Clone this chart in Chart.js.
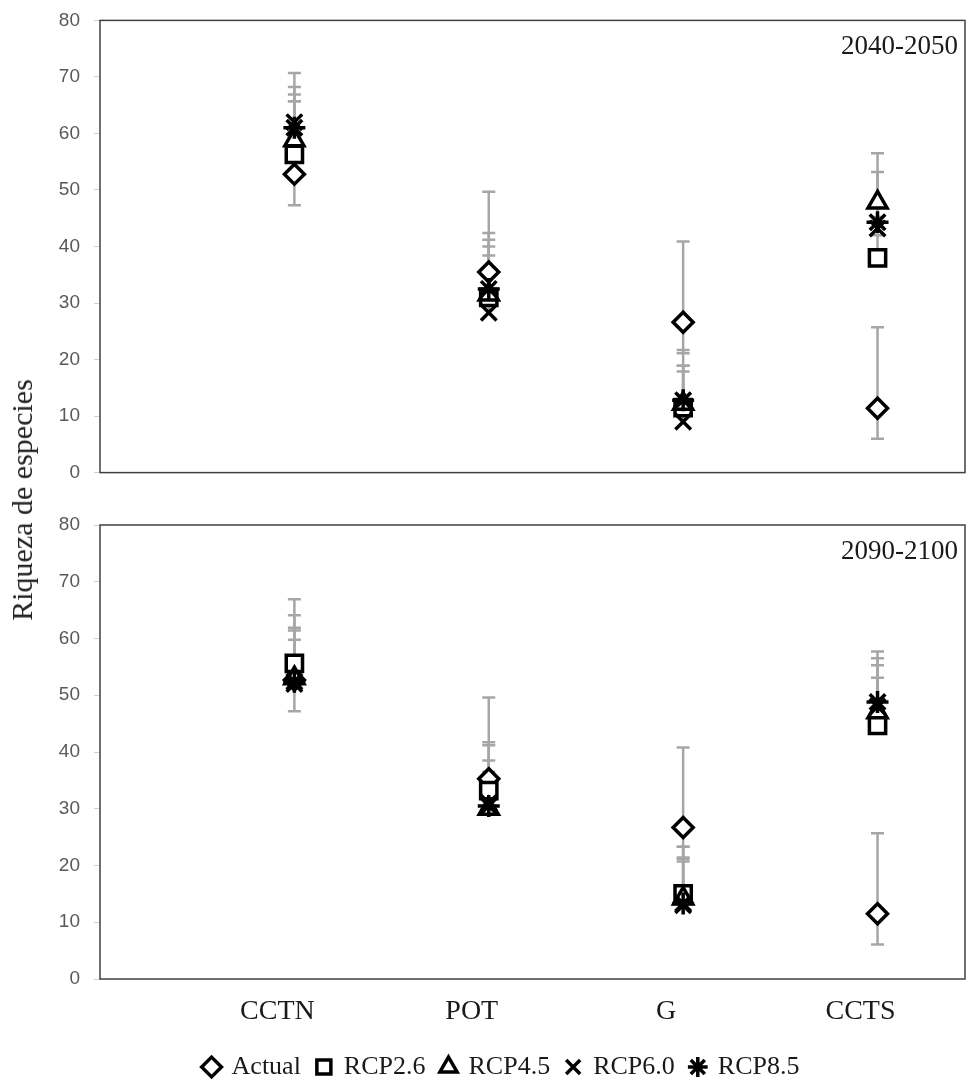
<!DOCTYPE html>
<html>
<head>
<meta charset="utf-8">
<script src="https://cdn.jsdelivr.net/npm/chart.js@4.4.1/dist/chart.umd.min.js"></script>
<style>
    body { margin: 0; background: #fff; overflow: hidden; }
    #wrap { position: relative; width: 971px; height: 1082px; overflow: hidden; }
    #topChart { position: absolute; left: 0; top: -5px; }
    #bottomChart { position: absolute; left: 0; top: 495px; }
    #ytitle {
        position: absolute; left: 22px; top: 500px;
        transform: translate(-50%, -50%) rotate(-90deg);
        font: 30px 'Liberation Serif', serif; color: #222; white-space: nowrap;
    }
</style>
</head>
<body>
<div id="wrap">
    <canvas id="topChart" width="971" height="503"></canvas>
    <canvas id="bottomChart" width="1003" height="595"></canvas>
    <div id="ytitle">Riqueza de especies</div>
</div>
<script>
const categories = ['CCTN', 'POT', 'G', 'CCTS'];
const seriesNames = ['Actual', 'RCP2.6', 'RCP4.5', 'RCP6.0', 'RCP8.5'];
const yTicks = [0, 10, 20, 30, 40, 50, 60, 70, 80];

// 2040-2050, one row per series (Actual, RCP2.6, RCP4.5, RCP6.0, RCP8.5)
const mean2050 = [
    [52.8, 35.5, 26.6, 11.4],
    [56.3, 31.0, 11.5, 38.0],
    [58.8, 31.5, 12.2, 47.8],
    [62.0, 28.3, 9.0, 43.2],
    [61.0, 32.5, 12.8, 44.3],
];
const errUp2050 = [
    [17.9, 14.2, 14.3, 14.3],
    [9.4, 7.4, 6.4, 4.0],
    [6.9, 8.5, 6.7, 8.7],
    [4.9, 12.9, 12.7, 2.0],
    [7.2, 9.9, 6.1, 8.9],
];
const errDown2050 = [
    [5.5, 5.5, 5.5, 5.4],
    [0, 0, 0, 0],
    [0, 0, 0, 0],
    [0, 0, 0, 0],
    [0, 0, 0, 0],
];

// 2090-2100
const mean2100 = [
    [52.7, 35.3, 26.7, 11.5],
    [55.6, 33.2, 15.0, 44.7],
    [53.0, 30.0, 14.2, 47.0],
    [52.0, 31.0, 13.0, 48.0],
    [52.4, 30.5, 13.3, 48.8],
];
const errUp2100 = [
    [14.2, 14.3, 14.1, 14.2],
    [8.5, 8.5, 8.3, 13.0],
    [8.9, 11.2, 9.1, 8.3],
    [7.8, 7.5, 7.7, 5.1],
    [9.0, 6.0, 8.1, 7.7],
];
const errDown2100 = [
    [5.5, 5.5, 5.5, 5.4],
    [0, 0, 0, 0],
    [0, 0, 0, 0],
    [0, 0, 0, 0],
    [0, 0, 0, 0],
];

const markerStyle = ['rectRot', 'rect', 'triangle', 'crossRot', 'star'];
const markerRadius = [10, 11.5, 11, 11, 11];

const serif = "'Liberation Serif', 'Times New Roman', serif";
const sans = "'Liberation Sans', Arial, sans-serif";

const errorBars = {
    id: 'errorBars',
    beforeDatasetsDraw(chart) {
        const { ctx } = chart;
        const yScale = chart.scales.y;
        ctx.save();
        ctx.strokeStyle = '#a6a6a6';
        ctx.lineWidth = 2.5;
        chart.data.datasets.forEach((ds, i) => {
            const meta = chart.getDatasetMeta(i);
            meta.data.forEach((pt, j) => {
                const v = ds.data[j].y;
                const top = yScale.getPixelForValue(v + ds.errUp[j]);
                const bottom = yScale.getPixelForValue(v - ds.errDown[j]);
                ctx.beginPath();
                ctx.moveTo(pt.x, top);
                ctx.lineTo(pt.x, bottom);
                if (ds.errUp[j] > 0) {
                    ctx.moveTo(pt.x - 6.5, top);
                    ctx.lineTo(pt.x + 6.5, top);
                }
                if (ds.errDown[j] > 0) {
                    ctx.moveTo(pt.x - 6.5, bottom);
                    ctx.lineTo(pt.x + 6.5, bottom);
                }
                ctx.stroke();
            });
        });
        ctx.restore();
    },
};

const plotBox = {
    id: 'plotBox',
    afterDraw(chart, args, opts) {
        const { ctx, chartArea } = chart;
        ctx.save();
        ctx.strokeStyle = '#404040';
        ctx.lineWidth = 1.5;
        ctx.strokeRect(chartArea.left, chartArea.top, chartArea.right - chartArea.left, chartArea.bottom - chartArea.top);
        ctx.fillStyle = '#1a1a1a';
        ctx.font = '27px ' + serif;
        ctx.textAlign = 'right';
        ctx.textBaseline = 'middle';
        ctx.fillText(opts.text, chartArea.right - 7, chartArea.top + 27);
        ctx.restore();
    },
};

function buildDatasets(means, ups, downs) {
    return seriesNames.map((name, i) => ({
        label: name,
        data: categories.map((c, j) => ({ x: j + 1, y: means[i][j] })),
        errUp: ups[i],
        errDown: downs[i],
        pointStyle: markerStyle[i],
        pointRadius: markerRadius[i],
        pointHoverRadius: markerRadius[i],
        borderColor: '#000',
        backgroundColor: '#fff',
        borderWidth: 3.5,
        showLine: false,
        order: seriesNames.length - i,
    }));
}

function yAxis(width) {
    return {
        min: 0,
        max: 80,
        afterBuildTicks: (axis) => { axis.ticks = yTicks.map((v) => ({ value: v })); },
        afterFit: (axis) => { axis.width = width; },
        grid: { drawOnChartArea: false, drawTicks: true, tickLength: 6, color: '#d0d0d0' },
        border: { display: false },
        ticks: { color: '#595959', font: { family: sans, size: 19 }, padding: 14 },
    };
}

function makeChart(id, means, ups, downs, label, isBottom) {
    const ctx = document.getElementById(id).getContext('2d');
    return new Chart(ctx, {
        type: 'scatter',
        data: { datasets: buildDatasets(means, ups, downs) },
        plugins: [errorBars, plotBox],
        options: {
            responsive: false,
            animation: false,
            layout: {
                autoPadding: false,
                padding: isBottom ? { top: 30, right: 38, bottom: 0, left: 39 } : { top: 20, right: 6, bottom: 20, left: 0 },
            },
            scales: {
                x: {
                    type: 'linear',
                    min: 0,
                    max: 4.45,
                    display: isBottom,
                    afterBuildTicks: (axis) => { axis.ticks = categories.map((c, j) => ({ value: j + 1 })); },
                    afterFit: (axis) => { axis.height = isBottom ? 59 : 0; },
                    grid: { display: false, drawTicks: false },
                    border: { display: false },
                    ticks: {
                        autoSkip: false,
                        maxRotation: 0,
                        padding: 16,
                        labelOffset: -17,
                        color: '#1a1a1a',
                        font: { family: serif, size: 28 },
                        callback: (value) => categories[value - 1] || '',
                    },
                },
                y: yAxis(isBottom ? 61 : 100),
            },
            plugins: {
                plotBox: { text: label },
                tooltip: { enabled: false },
                legend: {
                    display: isBottom,
                    position: 'bottom',
                    labels: {
                        usePointStyle: true,
                        boxWidth: 14,
                        boxHeight: 14,
                        padding: 16,
                        color: '#1a1a1a',
                        font: { family: serif, size: 26 },
                        sort: (a, b) => a.datasetIndex - b.datasetIndex,
                    },
                },
            },
        },
    });
}

makeChart('topChart', mean2050, errUp2050, errDown2050, '2040-2050', false);
makeChart('bottomChart', mean2100, errUp2100, errDown2100, '2090-2100', true);
</script>
</body>
</html>
